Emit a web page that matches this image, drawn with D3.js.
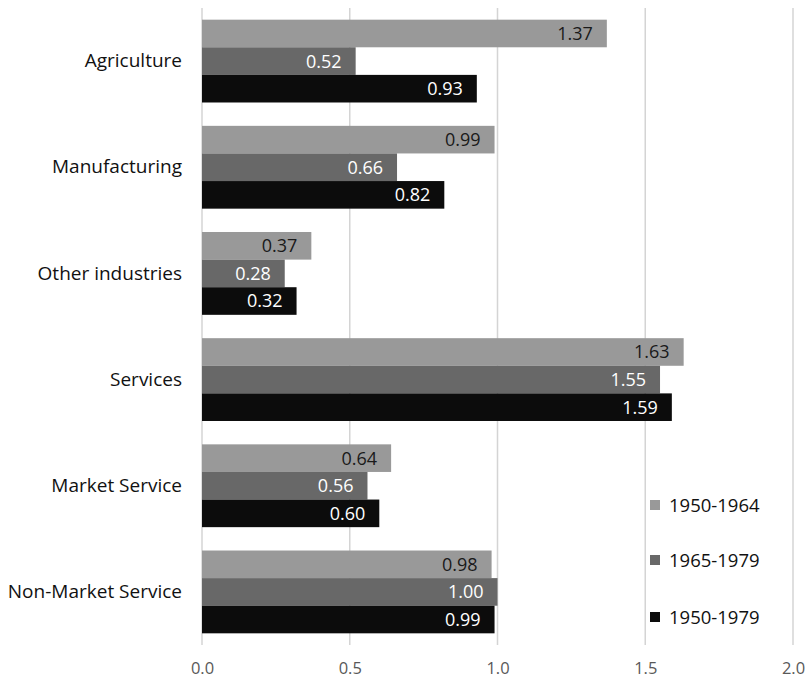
<!DOCTYPE html>
<html>
<head>
<meta charset="utf-8">
<script src="https://cdn.jsdelivr.net/npm/d3@7"></script>
<style>
  html, body { margin: 0; padding: 0; background: #fff; }
  svg { display: block; font-family: "Open Sans", "Noto Sans", sans-serif; }
</style>
</head>
<body>
<svg id="chart" width="808" height="680"></svg>
<script>
// Sectors, periods and growth values
const categories = ["Agriculture", "Manufacturing", "Other industries", "Services", "Market Service", "Non-Market Service"];
const seriesNames = ["1950-1964", "1965-1979", "1950-1979"];
const values1950_1964 = [1.37, 0.99, 0.37, 1.63, 0.64, 0.98];
const values1965_1979 = [0.52, 0.66, 0.28, 1.55, 0.56, 1.00];
const values1950_1979 = [0.93, 0.82, 0.32, 1.59, 0.60, 0.99];
const xTicks = [0.0, 0.5, 1.0, 1.5, 2.0];

const seriesValues = [values1950_1964, values1965_1979, values1950_1979];
const colors = ["#999999", "#686868", "#0c0c0c"];
const labelColors = ["#1a1a1a", "#ffffff", "#ffffff"];

const svg = d3.select("#chart");
const plotLeft = 202, plotRight = 793, plotTop = 8, plotBottom = 645;

const x = d3.scaleLinear().domain([0, 2]).range([plotLeft, plotRight]);
const y = d3.scaleBand().domain(categories).range([plotTop, plotBottom]).paddingInner(0.22).paddingOuter(0.11);
const ySub = d3.scaleBand().domain(seriesNames).range([0, y.bandwidth()]);

// Vertical gridlines
svg.append("g").selectAll("line").data(xTicks).join("line")
  .attr("x1", d => x(d)).attr("x2", d => x(d))
  .attr("y1", plotTop).attr("y2", plotBottom)
  .attr("stroke", "#d4d4d4").attr("stroke-width", 1.5);

// X axis tick labels
const xAxis = d3.axisBottom(x).tickValues(xTicks).tickFormat(d3.format(".1f")).tickSize(0).tickPadding(0);
const gx = svg.append("g").attr("transform", `translate(0, ${plotBottom + 17})`).call(xAxis);
gx.select(".domain").remove();
gx.selectAll("text").attr("font-size", 16.5).attr("fill", "#595959")
  .attr("font-family", "'Open Sans', sans-serif").attr("dy", "0.71em");

// Category labels
const yAxis = d3.axisLeft(y).tickSize(0).tickPadding(20);
const gy = svg.append("g").attr("transform", `translate(${plotLeft}, 0)`).call(yAxis);
gy.select(".domain").remove();
gy.selectAll("text").attr("font-size", 19).attr("fill", "#111")
  .attr("font-family", "'Open Sans', sans-serif");

// Bars and value labels
const rows = categories.map((c, i) => ({
  cat: c,
  items: seriesNames.map((s, j) => ({ s, j, v: seriesValues[j][i] }))
}));

const groups = svg.append("g").selectAll("g").data(rows).join("g")
  .attr("transform", d => `translate(0, ${y(d.cat)})`);

groups.selectAll("rect").data(d => d.items).join("rect")
  .attr("x", x(0))
  .attr("y", d => ySub(d.s))
  .attr("width", d => x(d.v) - x(0))
  .attr("height", ySub.bandwidth())
  .attr("fill", d => colors[d.j]);

groups.selectAll("text").data(d => d.items).join("text")
  .attr("x", d => x(d.v) - 14)
  .attr("y", d => ySub(d.s) + ySub.bandwidth() / 2)
  .attr("dy", "0.36em")
  .attr("text-anchor", "end")
  .attr("font-size", 18)
  .attr("fill", d => labelColors[d.j])
  .text(d => d3.format(".2f")(d.v));

// Legend
const legendY = [505, 560, 617];
const legend = svg.append("g").selectAll("g").data(seriesNames).join("g")
  .attr("transform", (d, i) => `translate(650, ${legendY[i]})`);
legend.append("rect").attr("x", 0).attr("y", -5).attr("width", 10).attr("height", 10)
  .attr("fill", (d, i) => colors[i]);
legend.append("text").attr("x", 19).attr("dy", "0.36em")
  .attr("font-size", 18.5).attr("fill", "#111").text(d => d);
</script>
</body>
</html>
